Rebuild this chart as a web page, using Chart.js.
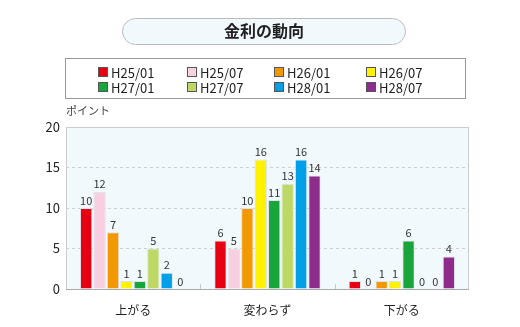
<!DOCTYPE html>
<html>
<head>
<meta charset="utf-8">
<script src="https://cdn.jsdelivr.net/npm/chart.js@4"></script>
<style>
  html, body { margin: 0; padding: 0; background: #fff; }
  #wrap { position: relative; width: 520px; height: 327px; }
</style>
</head>
<body>
<div id="wrap"><canvas id="chart" width="520" height="327"></canvas></div>
<script>
// 金利の動向
const title = "金利の動向";
const unitLabel = "ポイント";
const categories = ["上がる", "変わらず", "下がる"];
const periods = ["H25/01", "H25/07", "H26/01", "H26/07", "H27/01", "H27/07", "H28/01", "H28/07"];
const colors = ["#e60012", "#f8cfe0", "#f39800", "#fff100", "#17a53c", "#bed866", "#00a0e9", "#8e2c8c"];

const h25_01 = [10, 6, 1];
const h25_07 = [12, 5, 0];
const h26_01 = [7, 10, 1];
const h26_07 = [1, 16, 1];
const h27_01 = [1, 11, 6];
const h27_07 = [5, 13, 0];
const h28_01 = [2, 16, 0];
const h28_07 = [0, 14, 4];
const series = [h25_01, h25_07, h26_01, h26_07, h27_01, h27_07, h28_01, h28_07];

const yTicks = [0, 5, 10, 15, 20];

const font = "'Noto Sans CJK JP', 'Noto Sans', sans-serif";

function roundRect(ctx, x, y, w, h, r) {
  ctx.beginPath();
  ctx.moveTo(x + r, y);
  ctx.lineTo(x + w - r, y);
  ctx.arcTo(x + w, y, x + w, y + r, r);
  ctx.lineTo(x + w, y + h - r);
  ctx.arcTo(x + w, y + h, x + w - r, y + h, r);
  ctx.lineTo(x + r, y + h);
  ctx.arcTo(x, y + h, x, y + h - r, r);
  ctx.lineTo(x, y + r);
  ctx.arcTo(x, y, x + r, y, r);
  ctx.closePath();
}

// header: title pill + legend box
const headerPlugin = {
  id: "header",
  afterDraw(chart) {
    const ctx = chart.ctx;
    ctx.save();
    roundRect(ctx, 122.5, 18.5, 283, 26, 13);
    ctx.fillStyle = "#f2f9fd";
    ctx.fill();
    ctx.strokeStyle = "#bbbbbb";
    ctx.lineWidth = 1;
    ctx.stroke();
    ctx.fillStyle = "#222";
    ctx.font = "bold 16px " + font;
    ctx.textAlign = "center";
    ctx.textBaseline = "middle";
    ctx.fillText(title, 264, 31);

    ctx.strokeStyle = "#999999";
    ctx.strokeRect(65.5, 58.5, 400, 40);
    const colX = [98, 187, 274, 366];
    const rowY = [72, 87];
    ctx.font = "13px " + font;
    ctx.textAlign = "left";
    periods.forEach((p, i) => {
      const x = colX[i % 4];
      const y = rowY[Math.floor(i / 4)];
      ctx.fillStyle = colors[i];
      ctx.fillRect(x, y - 5, 10, 10);
      ctx.strokeStyle = "#555";
      ctx.strokeRect(x + 0.5, y - 4.5, 9, 9);
      ctx.fillStyle = "#222";
      ctx.fillText(p, x + 13, y + 1);
    });

    ctx.font = "11px " + font;
    ctx.fillStyle = "#444";
    ctx.fillText(unitLabel, 66, 111);
    ctx.restore();
  }
};

// plot background, frame, category separators
const plotBg = {
  id: "plotBg",
  beforeDraw(chart) {
    const { ctx, chartArea: a } = chart;
    ctx.save();
    ctx.fillStyle = "#f2f9fd";
    ctx.fillRect(a.left, a.top, a.right - a.left, a.bottom - a.top);
    ctx.restore();
  },
  afterDatasetsDraw(chart) {
    const { ctx, chartArea: a, scales } = chart;
    ctx.save();
    ctx.strokeStyle = "#cccccc";
    ctx.lineWidth = 1;
    ctx.strokeRect(a.left + 0.5, a.top + 0.5, a.right - a.left - 1, a.bottom - a.top);
    const x = scales.x;
    for (let i = 1; i < categories.length; i++) {
      const px = Math.round((x.getPixelForValue(i - 1) + x.getPixelForValue(i)) / 2) + 0.5;
      ctx.beginPath();
      ctx.moveTo(px, a.bottom);
      ctx.lineTo(px, a.bottom - 5);
      ctx.stroke();
    }
    ctx.strokeStyle = "#aaaaaa";
    ctx.beginPath();
    ctx.moveTo(a.left, a.bottom + 0.5);
    ctx.lineTo(a.right, a.bottom + 0.5);
    ctx.stroke();
    ctx.restore();
  }
};

// value labels above bars
const valueLabels = {
  id: "valueLabels",
  afterDatasetsDraw(chart) {
    const ctx = chart.ctx;
    ctx.save();
    ctx.font = "11px " + font;
    ctx.fillStyle = "#333";
    ctx.textAlign = "center";
    ctx.textBaseline = "bottom";
    chart.data.datasets.forEach((ds, di) => {
      chart.getDatasetMeta(di).data.forEach((bar, i) => {
        ctx.fillText(ds.data[i], bar.x, bar.y - 2);
      });
    });
    ctx.restore();
  }
};

new Chart(document.getElementById("chart"), {
  type: "bar",
  data: {
    labels: categories,
    datasets: periods.map((p, i) => ({
      label: p,
      data: series[i],
      backgroundColor: colors[i],
      borderColor: "#dde3e8",
      borderWidth: 1
    }))
  },
  options: {
    responsive: false,
    animation: false,
    layout: { padding: { top: 127, right: 51, bottom: 0, left: 0 } },
    plugins: { legend: { display: false }, tooltip: { enabled: false } },
    datasets: { bar: { categoryPercentage: 0.8, barPercentage: 0.92 } },
    scales: {
      x: {
        grid: { display: false },
        border: { display: false },
        ticks: { color: "#222", font: { family: font, size: 12 }, padding: 6 },
        afterFit(s) { s.height = 38; }
      },
      y: {
        min: 0,
        max: 20,
        afterBuildTicks(s) { s.ticks = yTicks.map(v => ({ value: v })); },
        grid: {
          color: c => (c.tick.value === 0 || c.tick.value === 20) ? "rgba(0,0,0,0)" : "#cfcfcf",
          tickLength: 0
        },
        border: { display: false, dash: [3, 3] },
        ticks: { color: "#222", font: { family: font, size: 13 }, padding: 6 },
        afterFit(s) { s.width = 66; }
      }
    }
  },
  plugins: [plotBg, valueLabels, headerPlugin]
});
</script>
</body>
</html>
